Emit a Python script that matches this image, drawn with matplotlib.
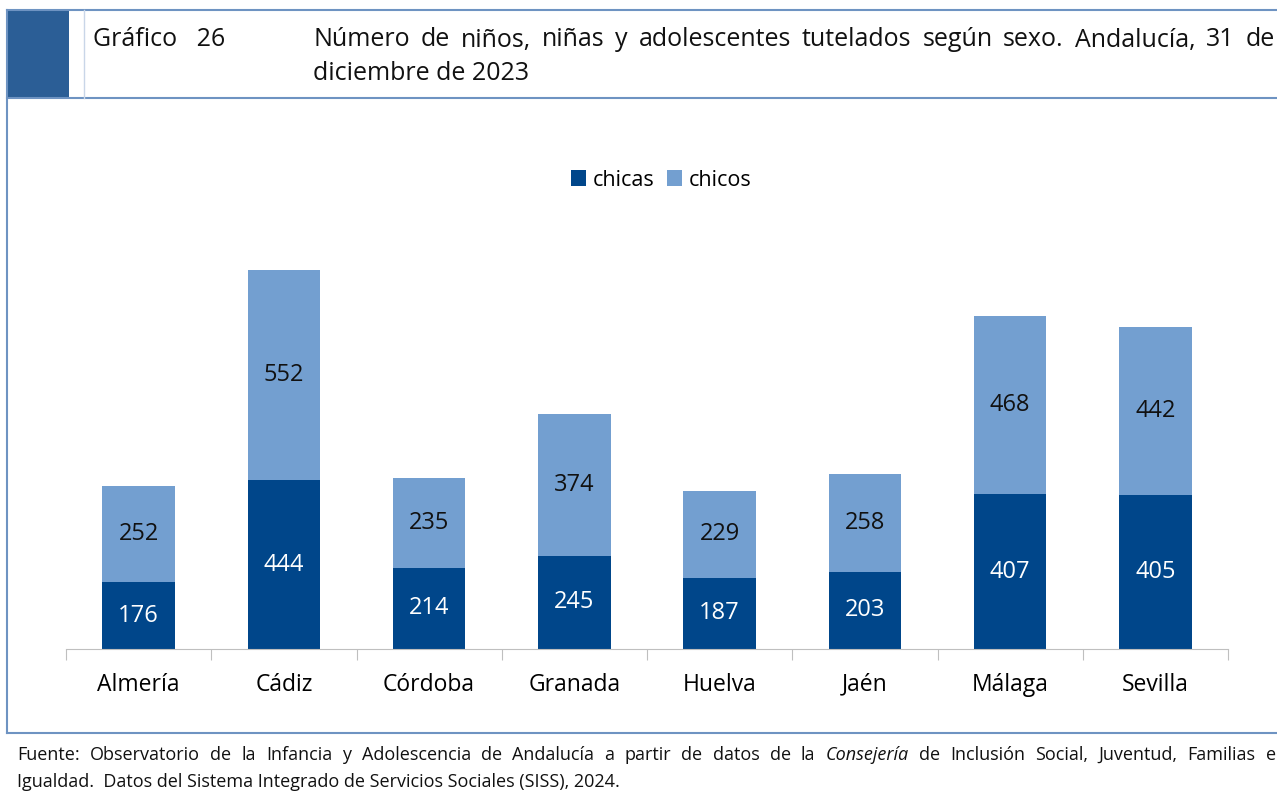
import matplotlib
matplotlib.use("Agg")
import matplotlib.pyplot as plt
from matplotlib.patches import Rectangle
from matplotlib.lines import Line2D

plt.rcParams['font.family'] = ['Open Sans', 'DejaVu Sans']

provincias = ['Almería', 'Cádiz', 'Córdoba', 'Granada', 'Huelva', 'Jaén', 'Málaga', 'Sevilla']
chicas = [176, 444, 214, 245, 187, 203, 407, 405]
chicos = [252, 552, 235, 374, 229, 258, 468, 442]

titulo_1 = 'Número de niños, niñas y adolescentes tutelados según sexo. Andalucía, 31 de'
titulo_2 = 'diciembre de 2023'
fuente_1 = [('Fuente:', 'normal'), ('Observatorio', 'normal'), ('de', 'normal'), ('la', 'normal'),
            ('Infancia', 'normal'), ('y', 'normal'), ('Adolescencia', 'normal'), ('de', 'normal'),
            ('Andalucía', 'normal'), ('a', 'normal'), ('partir', 'normal'), ('de', 'normal'),
            ('datos', 'normal'), ('de', 'normal'), ('la', 'normal'), ('Consejería', 'italic'),
            ('de', 'normal'), ('Inclusión', 'normal'), ('Social,', 'normal'), ('Juventud,', 'normal'),
            ('Familias', 'normal'), ('e', 'normal')]
fuente_2 = 'Igualdad.  Datos del Sistema Integrado de Servicios Sociales (SISS), 2024.'

C_CHICAS = '#00468A'
C_CHICOS = '#739FD0'
C_MARCO = '#2B5E96'
C_LINEA = '#6E93C2'

W, H = 1277, 796
fig = plt.figure(figsize=(W / 100, H / 100), dpi=100)


def fx(px):
    return px / W


def fy(py):
    return 1 - py / H


# marco
fig.add_artist(Rectangle((fx(7), fy(98)), fx(62), fy(10) - fy(98), transform=fig.transFigure,
                         facecolor=C_MARCO, edgecolor='none'))
fig.add_artist(Line2D([fx(7), 1], [fy(10), fy(10)], transform=fig.transFigure, color=C_LINEA, lw=1.5))
fig.add_artist(Line2D([fx(7), 1], [fy(98), fy(98)], transform=fig.transFigure, color=C_LINEA, lw=1.5))
fig.add_artist(Line2D([fx(84), fx(84)], [fy(10), fy(98)], transform=fig.transFigure, color='#C9D6E8', lw=1))
fig.add_artist(Line2D([fx(7), fx(7)], [fy(10), fy(733)], transform=fig.transFigure, color=C_LINEA, lw=1.5))
fig.add_artist(Line2D([fx(7), 1], [fy(733), fy(733)], transform=fig.transFigure, color=C_LINEA, lw=1.5))

# grafico
ax = fig.add_axes([fx(66), fy(649), fx(1228) - fx(66), fy(200) - fy(649)])
x = range(len(provincias))
b1 = ax.bar(x, chicas, width=0.5, color=C_CHICAS, label='chicas')
b2 = ax.bar(x, chicos, width=0.5, bottom=chicas, color=C_CHICOS, label='chicos')
for i in x:
    ax.text(i, chicas[i] / 2, str(chicas[i]), ha='center', va='center', color='white', fontsize=17)
    ax.text(i, chicas[i] + chicos[i] / 2, str(chicos[i]), ha='center', va='center', color='#111111', fontsize=17)

ax.set_xlim(-0.5, len(provincias) - 0.5)
ax.set_ylim(0, 1181)
ax.set_yticks([])
for s in ['top', 'right', 'left']:
    ax.spines[s].set_visible(False)
ax.spines['bottom'].set_color('#BFBFBF')
ax.set_xticks([i - 0.5 for i in range(len(provincias) + 1)], minor=False)
ax.set_xticklabels([])
ax.tick_params(axis='x', length=8, color='#BFBFBF', direction='out')
ax.set_xticks(list(x), minor=True)
ax.set_xticklabels(provincias, minor=True, fontsize=16.5)
ax.tick_params(axis='x', which='minor', length=0, pad=17)

fig.legend(handles=[b1, b2], loc='center', bbox_to_anchor=(fx(661), fy(180)), ncol=2,
           frameon=False, fontsize=15.5, handlelength=0.7, handleheight=0.7,
           handletextpad=0.3, columnspacing=0.6)

# textos
fig.text(fx(93), fy(40), 'Gráfico   26', fontsize=18, va='center', color='#111111')


def justificar(palabras, x0, x1, y, size):
    fig.canvas.draw()
    r = fig.canvas.get_renderer()
    objs = []
    for w, st in palabras:
        objs.append(fig.text(fx(x0), fy(y), w, fontsize=size, style=st, va='center', color='#111111'))
    anchos = [t.get_window_extent(r).width for t in objs]
    hueco = (x1 - x0 - sum(anchos)) / (len(objs) - 1)
    pos = x0
    for t, a in zip(objs, anchos):
        t.set_x(fx(pos))
        pos += a + hueco


justificar([(w, 'normal') for w in titulo_1.split(' ')], 313, 1275, 40, 18)
fig.text(fx(313), fy(73), titulo_2, fontsize=18, va='center', color='#111111')
justificar(fuente_1, 17, 1276, 755, 13)
fig.text(fx(17), fy(782), fuente_2, fontsize=13, va='center', color='#111111')

fig.savefig('out.png', dpi=100)
